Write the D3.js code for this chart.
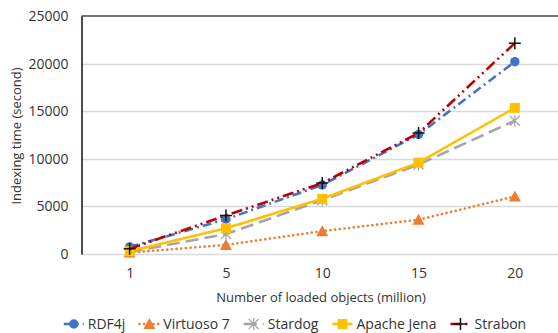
<!DOCTYPE html>
<html>
<head>
<meta charset="utf-8">
<script src="https://cdn.jsdelivr.net/npm/d3@7"></script>
<style>
  body { margin: 0; background: #fff; }
  text { font-family: "Open Sans", sans-serif; fill: #333; }
</style>
</head>
<body>
<div id="chart"></div>
<script>
/* indexing time by number of loaded objects */

const categories = ["1", "5", "10", "15", "20"];
const seriesNames = ["RDF4j", "Virtuoso 7", "Stardog", "Apache Jena", "Strabon"];
const rdf4j = [750, 3650, 7250, 12550, 20200];
const virtuoso = [150, 950, 2400, 3600, 6050];
const stardog = [200, 2100, 5650, 9400, 14000];
const jena = [300, 2700, 5800, 9600, 15350];
const strabon = [550, 4050, 7450, 12700, 22150];
const yTicks = [0, 5000, 10000, 15000, 20000, 25000];

let width = 558,
    height = 333,
    margin = ({ top: 16, right: -5, bottom: 78, left: 81.5 });

const svg = d3.select("#chart")
  .append("svg")
  .attr("width", width)
  .attr("height", height);

let x = d3.scalePoint()
  .domain(categories)
  .range([margin.left, width - margin.right])
  .padding(0.5);

let y = d3.scaleLinear()
  .domain([0, 25000])
  .range([height - margin.bottom - 1, margin.top]);

// gridlines
svg.append("g")
  .selectAll("line")
  .data(yTicks.slice(0, -1))
  .join("line")
  .attr("x1", margin.left)
  .attr("x2", width)
  .attr("y1", d => Math.round(y(d)) + 0.5)
  .attr("y2", d => Math.round(y(d)) + 0.5)
  .attr("stroke", "#d9d9d9")
  .attr("stroke-width", 1.3);

// top border
svg.append("line")
  .attr("x1", margin.left)
  .attr("x2", width)
  .attr("y1", y(25000))
  .attr("y2", y(25000))
  .attr("stroke", "#767676")
  .attr("stroke-width", 2);

// y axis
let yAxis = svg.append("g")
  .attr("transform", `translate(${margin.left},0)`)
  .call(d3.axisLeft(y).tickValues(yTicks).tickFormat(d3.format("d")).tickSize(0).tickPadding(13));
yAxis.select(".domain").attr("stroke", "#111").attr("stroke-width", 1.5);
yAxis.selectAll("text").style("font-size", "14px").attr("fill", "#333");

// x axis
let xAxis = svg.append("g")
  .attr("transform", `translate(0,${y(0)})`)
  .call(d3.axisBottom(x).tickSize(0).tickPadding(14));
xAxis.select(".domain").remove();
xAxis.selectAll("text").style("font-size", "14px").attr("fill", "#333");

svg.append("text")
  .attr("x", 321)
  .attr("y", 302)
  .attr("text-anchor", "middle")
  .style("font-size", "13px")
  .text("Number of loaded objects (million)");

svg.append("text")
  .attr("transform", `translate(21,136) rotate(-90)`)
  .attr("text-anchor", "middle")
  .style("font-size", "13px")
  .text("Indexing time (second)");

const styles = [
  { values: rdf4j, color: "#4472c4", dash: "9,4,2,4", marker: "circle" },
  { values: virtuoso, color: "#ed7d31", dash: "0.1,4.6", cap: "round", marker: "triangle" },
  { values: stardog, color: "#a5a5a5", dash: "13,6", marker: "star" },
  { values: jena, color: "#ffc000", dash: null, marker: "square" },
  { values: strabon, color: "#c00000", dash: "11,4,2,4,2,4", marker: "plus" }
];

let line = d3.line()
  .x((d, i) => x(categories[i]))
  .y(d => y(d));

function drawMarker(g, type, color, cx, cy) {
  if (type === "circle") {
    g.append("circle").attr("cx", cx).attr("cy", cy).attr("r", 4.7).attr("fill", color);
  } else if (type === "triangle") {
    g.append("path")
      .attr("d", `M${cx},${cy - 6}L${cx + 6},${cy + 5}L${cx - 6},${cy + 5}Z`)
      .attr("fill", color);
  } else if (type === "square") {
    g.append("rect").attr("x", cx - 5).attr("y", cy - 5)
      .attr("width", 10).attr("height", 10).attr("fill", color);
  } else if (type === "star") {
    g.append("path")
      .attr("d", `M${cx - 5},${cy - 5}L${cx + 5},${cy + 5}M${cx - 5},${cy + 5}L${cx + 5},${cy - 5}M${cx},${cy - 6}L${cx},${cy + 6}`)
      .attr("stroke", color).attr("stroke-width", 1.2).attr("fill", "none");
  } else if (type === "plus") {
    g.append("path")
      .attr("d", `M${cx - 6},${cy}L${cx + 6},${cy}M${cx},${cy - 6}L${cx},${cy + 6}`)
      .attr("stroke", "#111").attr("stroke-width", 1.5).attr("fill", "none");
  }
}

for (let s of styles) {
  let g = svg.append("g");
  g.append("path")
    .datum(s.values)
    .attr("fill", "none")
    .attr("stroke", s.color)
    .attr("stroke-width", 2.6)
    .attr("stroke-dasharray", s.dash)
    .attr("stroke-linecap", s.cap || "butt")
    .attr("d", line);
  s.values.forEach((v, i) => drawMarker(g, s.marker, s.color, x(categories[i]), y(v)));
}

// legend, laid out left to right and centred
let legend = svg.append("g").attr("transform", "translate(0,324)");
let cursor = 0;
seriesNames.forEach((name, i) => {
  let g = legend.append("g");
  let s = styles[i];
  g.append("line")
    .attr("x1", 0).attr("x2", 20)
    .attr("stroke", s.color)
    .attr("stroke-width", 2.6)
    .attr("stroke-dasharray", s.dash)
    .attr("stroke-linecap", s.cap || "butt");
  drawMarker(g, s.marker, s.color, 10, 0);
  let t = g.append("text")
    .attr("x", 24)
    .attr("dy", "0.35em")
    .style("font-size", "14px")
    .text(name);
  let w = 24 + t.node().getComputedTextLength();
  g.attr("transform", `translate(${cursor},0)`);
  cursor += w + 14;
});
let total = cursor - 14;
legend.attr("transform", `translate(${295 - total / 2},324)`);
</script>
</body>
</html>
